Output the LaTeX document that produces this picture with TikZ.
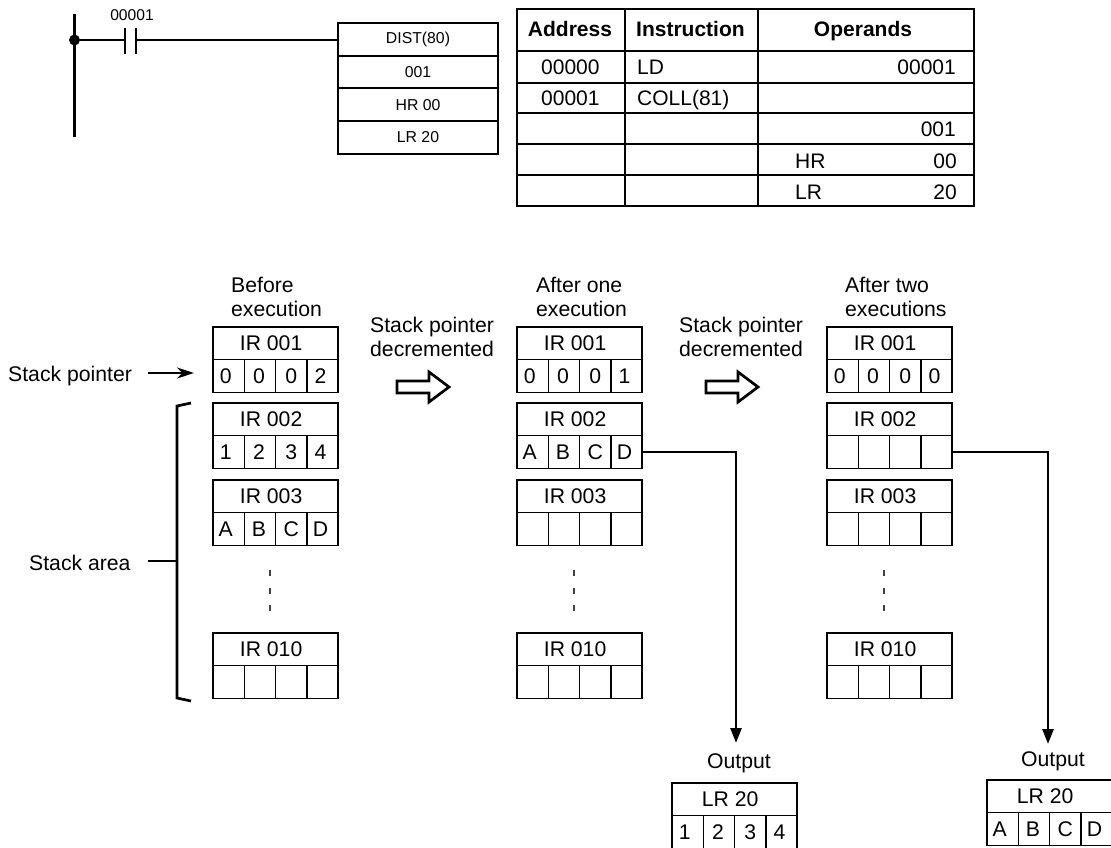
\documentclass[tikz,border=0pt]{standalone}
\usepackage{fontspec}
\usepackage{tikz}
\usetikzlibrary{arrows.meta}
\setmainfont{Liberation Sans}
\tikzset{
  lbl/.style={inner sep=0pt,font=\fontsize{21.2}{23.5}\selectfont,align=left},
  small/.style={inner sep=0pt,font=\fontsize{15.6}{18}\selectfont},
  tbl/.style={inner sep=0pt,font=\fontsize{21}{23.5}\selectfont},
  tblhead/.style={inner sep=0pt,font=\fontsize{21}{23.5}\selectfont\bfseries},
  cell/.style={draw,line width=1.6pt,inner sep=0pt,outer sep=0pt,minimum width=31.3pt,minimum height=33pt,font=\fontsize{21.2}{23.5}\selectfont},
  title/.style={draw,line width=1.6pt,inner sep=0pt,outer sep=0pt,minimum width=125.2pt,minimum height=32.5pt,font=\fontsize{21.2}{23.5}\selectfont},
  instr/.style={draw,line width=2.2pt,inner sep=0pt,outer sep=0pt,minimum width=160pt,minimum height=32.7pt,font=\fontsize{15.8}{18}\selectfont},
  wire/.style={line width=2.7pt},
  flow/.style={line width=2.7pt,-{Triangle[length=15pt,width=11pt]}},
  point/.style={line width=2.2pt,-{Stealth[length=17pt,width=11pt]}},
  hollow/.style={line width=2.7pt,line join=miter},
  vdots/.style={line width=2pt,black!75,dash pattern=on 6pt off 11.5pt},
}
% name, left, top, title, four cells
\newcommand{\regbox}[8]{
\node[title,anchor=north west] (#1t) at (#2,#3) {#4\kern9pt};
\foreach \c/\k/\n [count=\i from 0] in {{#5}/6/a,{#6}/2/b,{#7}/0/c,{#8}/4/d}
  \node[cell,anchor=north west] (#1\n) at (#2+\i*31.3,#3+32.5) {\c\kern\k pt};
}
\begin{document}
\begin{tikzpicture}[x=1pt,y=-1pt]
\useasboundingbox (0,0) rectangle (1111,848);
% ladder rung
\node[instr,anchor=north west] (dist) at (338,23) {DIST(80)};
\node[instr,anchor=north west] (src) at (338,55.7) {001};
\node[instr,anchor=north west] (hr) at (338,88.4) {HR 00};
\node[instr,anchor=north west] (lr) at (338,121.1) {LR 20};
\coordinate (bustop) at (74.5,14);
\coordinate (busend) at (74.5,137);
\node[circle,fill,inner sep=0pt,minimum size=11pt] (junc) at (74.5,40) {};
\coordinate (cl) at (125,40);
\coordinate (cr) at (136,40);
\draw[wire] (bustop) -- (busend);
\draw[wire] (junc) -- (cl);
\draw[wire] (cr) -- (dist.west |- cr);
\draw[wire] (125,28) -- (125,54);
\draw[wire] (136,28) -- (136,54);
\node[small,anchor=base] (bit) at (132,21) {00001};
% mnemonic table
\draw[line width=2.8pt] (517,9) rectangle (974,206);
\foreach \y in {51,83,113,144,175} \draw[line width=2.6pt] (517,\y) -- (974,\y);
\foreach \x in {625,758} \draw[line width=2.6pt] (\x,9) -- (\x,206);
\node[tblhead,anchor=base] (haddr) at (570,37) {Address};
\node[tblhead,anchor=base west] (hins) at (636,37) {Instruction};
\node[tblhead,anchor=base] (hop) at (863,37) {Operands};
\node[tbl,anchor=base west] (a0) at (541,75) {00000};
\node[tbl,anchor=base west] (a1) at (541,106) {00001};
\node[tbl,anchor=base west] (i0) at (637,75) {LD};
\node[tbl,anchor=base west] (i1) at (637,106) {COLL(81)};
\node[tbl,anchor=base east] (o0) at (956,75) {00001};
\node[tbl,anchor=base east] (o1) at (956,137) {001};
\node[tbl,anchor=base west] (o2a) at (795,168) {HR};
\node[tbl,anchor=base east] (o2b) at (957,168) {00};
\node[tbl,anchor=base west] (o3a) at (795,199) {LR};
\node[tbl,anchor=base east] (o3b) at (957,199) {20};
% registers
\regbox{pa}{213}{327}{IR 001}{0}{0}{0}{2}
\regbox{pb}{213}{403}{IR 002}{1}{2}{3}{4}
\regbox{pc}{213}{480}{IR 003}{A}{B}{C}{D}
\regbox{pd}{213}{633}{IR 010}{}{}{}{}
\regbox{qa}{517}{327}{IR 001}{0}{0}{0}{1}
\regbox{qb}{517}{403}{IR 002}{A}{B}{C}{D}
\regbox{qc}{517}{480}{IR 003}{}{}{}{}
\regbox{qd}{517}{633}{IR 010}{}{}{}{}
\regbox{ra}{827}{327}{IR 001}{0}{0}{0}{0}
\regbox{rb}{827}{403}{IR 002}{}{}{}{}
\regbox{rc}{827}{480}{IR 003}{}{}{}{}
\regbox{rd}{827}{633}{IR 010}{}{}{}{}
\regbox{oa}{672}{783}{LR 20}{1}{2}{3}{4}
\regbox{ob}{987}{780}{LR 20}{A}{B}{C}{D}
% captions
\node[lbl,anchor=north west] (capa) at (231,277) {Before\\execution};
\node[lbl,anchor=north west] (capb) at (536,277) {After one\\execution};
\node[lbl,anchor=north west] (capc) at (845,277) {After two\\executions};
\node[lbl,anchor=north west] (deca) at (370,317) {Stack pointer\\decremented};
\node[lbl,anchor=north west] (decb) at (679,317) {Stack pointer\\decremented};
\node[lbl,anchor=base west] (sp) at (8,381) {Stack pointer};
\node[lbl,anchor=base west] (sarea) at (29,570) {Stack area};
\node[lbl,anchor=base west] (outa) at (707,768) {Output};
\node[lbl,anchor=base west] (outb) at (1021,766) {Output};
% arrows
\coordinate (spstart) at (148,373);
\coordinate (spend) at (194,373);
\draw[point] (spstart) -- (spend);
\coordinate (brt) at (191,403);
\coordinate (brb) at (191,701);
\coordinate (brm) at (177,561);
\draw[wire] (brt) -- (177,406) -- (177,698) -- (brb);
\draw[wire] (148,561) -- (brm);
\foreach \x in {397,706}
  \draw[hollow] (\x,381) -- (\x+32,381) -- (\x+32,372) -- (\x+52,387) -- (\x+32,402) -- (\x+32,393) -- (\x,393) -- cycle;
\foreach \x in {270,574,884} \draw[vdots] (\x,570) -- (\x,612);
\coordinate (ta) at (736,743);
\coordinate (tb) at (1048,744);
\draw[flow] (qbd.east) -| (ta);
\draw[flow] (rbd.east) -| (tb);
\end{tikzpicture}
\end{document}
